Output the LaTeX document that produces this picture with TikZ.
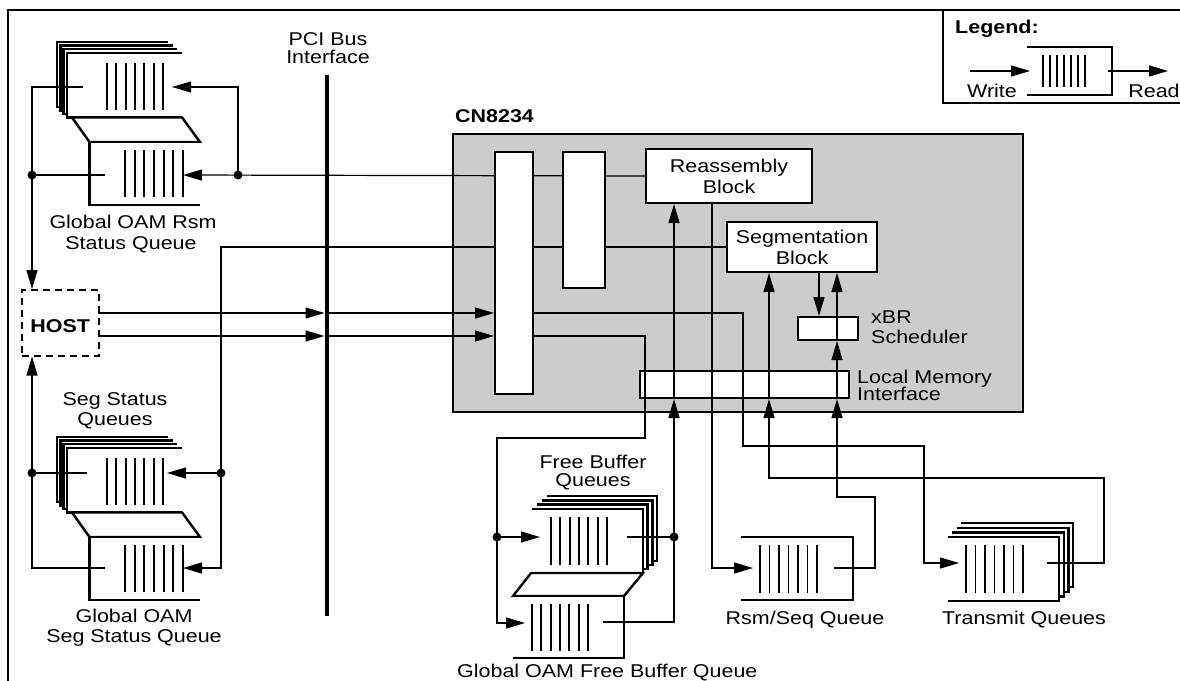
\documentclass[tikz,border=0pt]{standalone}
\usepackage{fontspec}
\setmainfont[FakeStretch=1.16]{Liberation Sans}
\usetikzlibrary{arrows.meta,calc}
\newcommand\qlayerL[4]{\fill[white] (#1,#2) rectangle (#3,#4); \draw[qline] (#1,#2) -- (#3,#2) -- (#3,#4) -- (#1,#4);}
\newcommand\qlayerR[4]{\fill[white] (#1,#2) rectangle (#3,#4); \draw[qline] (#3,#2) -- (#1,#2) -- (#1,#4) -- (#3,#4);}
\newcommand\qbars[4]{\foreach \k in {0,...,6}{\draw[bar] ({#1+\k*(#2-#1)/6},#3) -- ({#1+\k*(#2-#1)/6},#4);}}
\newcommand\leftstack{%
  \qlayerR{57}{42}{168}{107}
  \qlayerR{60.3}{45.6}{172.7}{110.5}
  \qlayerR{63.6}{49.2}{177.4}{114}
  \qlayerR{66.9}{52.8}{182.1}{117.5}
  \filldraw[qline,fill=white] (72,117.5) -- (182.1,117.5) -- (200,142) -- (89.5,142) -- cycle;
  \qlayerR{89.5}{142}{200}{205}
  \qbars{107}{163}{63}{110}
  \qbars{125}{183}{150}{197}}
\begin{document}
\begin{tikzpicture}[x=1pt,y=-1pt,
  every node/.style={font=\fontsize{18.5}{21}\selectfont},
  ln/.style={line width=1.2pt},
  arr/.style={ln,-{Triangle[length=19pt,width=11pt]}},
  qline/.style={line width=2.4pt},
  bar/.style={line width=1.8pt},
  box/.style={draw,line width=2pt,fill=white,inner sep=0pt,anchor=north west,align=center},
  dot/.style={circle,fill=black,inner sep=0pt,minimum size=9pt},
  lbl/.style={anchor=base,inner sep=0pt},
  lblL/.style={anchor=base west,inner sep=0pt}]
\useasboundingbox (0,0) rectangle (1180,680);
% frame and legend box
\draw[line width=2.5pt] (8,682) -- (8,10) -- (1182,10);
\draw[line width=2pt] (943,10) -- (943,103) -- (1182,103);
% chip and blocks
\node[draw,line width=2pt,fill=gray!40,minimum width=570pt,minimum height=278pt,anchor=north west,inner sep=0pt] (chip) at (452,133) {};
\node[box,minimum width=166pt,minimum height=54pt] (reasm) at (645,148) {Reassembly\\Block};
\node[box,minimum width=150pt,minimum height=50pt] (seg) at (726,221) {Segmentation\\Block};
\node[box,minimum width=60pt,minimum height=23pt] (xbr) at (797,316) {};
\node[box,minimum width=209pt,minimum height=27pt] (lmi) at (639,370) {};
% host
\node[draw,line width=1.5pt,dash pattern=on 7pt off 5pt,minimum width=77pt,minimum height=66pt,anchor=north west,inner sep=0pt,text height=20pt] (host) at (21,289) {\bfseries HOST};
% queues
\begin{scope}\leftstack\end{scope}
\begin{scope}[shift={(0,395)}]\leftstack\end{scope}
% free buffer queues
\qlayerL{547}{496}{657}{561}
\qlayerL{542}{500.3}{652.3}{565}
\qlayerL{537}{504.6}{647.6}{569}
\qlayerL{532}{509}{643}{573}
\filldraw[qline,fill=white] (531,573) -- (643,573) -- (624,596) -- (513,596) -- cycle;
\qlayerL{513}{596}{624}{658}
\qbars{551}{607}{517}{565}
\qbars{532}{588}{604}{651}
% transmit queues
\qlayerL{961}{523}{1073}{587}
\qlayerL{956.7}{527.7}{1068.3}{591.7}
\qlayerL{952.3}{532.3}{1063.7}{596.3}
\qlayerL{948}{537}{1059}{601}
\qbars{966}{1023}{545}{593}
% rsm/seq queue
\qlayerL{741}{537}{853}{600}
\qbars{760}{817}{545}{593}
% legend queue
\qlayerL{1027}{47}{1112}{95}
\qbars{1043}{1085}{55}{87}
% ports
\coordinate (rsmUw) at (172,87); \coordinate (rsmUr) at (83,87);
\coordinate (rsmLw) at (183,175); \coordinate (rsmLr) at (105,175);
\coordinate (segUw) at (167,473); \coordinate (segUr) at (87,473);
\coordinate (segLw) at (183,568); \coordinate (segLr) at (105,568);
\coordinate (fbUw) at (540,537); \coordinate (fbUr) at (627,537);
\coordinate (fbLw) at (525,623); \coordinate (fbLr) at (603,622);
\coordinate (rsW) at (753,568); \coordinate (rsR) at (834,568);
\coordinate (txW) at (959,563); \coordinate (txR) at (1047,563);
\coordinate (hA) at (98,313); \coordinate (hB) at (98,336);
\coordinate (lgW) at (970,71); \coordinate (lgWt) at (1030,71);
\coordinate (lgR) at (1108,71); \coordinate (lgRt) at (1168,71);
\coordinate (cB) at (837,497); \coordinate (cS) at (819,290); \coordinate (cT) at (769,478);
% dots
\node[dot] (jRsmL) at (32,175) {};
\node[dot] (jRsmR) at (238,175) {};
\node[dot] (jSegL) at (32,473) {};
\node[dot] (jSegR) at (221,473) {};
\node[dot] (jFbL) at (497,537) {};
\node[dot] (jFbR) at (674,537) {};
% bus
\node[fill=black,minimum width=4.5pt,minimum height=541pt,inner sep=0pt,anchor=north] (bus) at (327,75) {};
% connectors
\draw[arr] (rsmUr) -| (jRsmL |- host.north);
\draw[ln] (rsmLr) -- (jRsmL.center);
\draw[arr] (reasm.west) -- (rsmLw);
\draw[arr] (jRsmR.center) |- (rsmUw);
\draw[ln] (seg.west) -| (jSegR.center);
\draw[arr] (jSegR.center) -- (segUw);
\draw[arr] (jSegR.center) |- (segLw);
\draw[ln] (segUr) -- (jSegL.center);
\draw[arr] (segLr) -| (jSegL |- host.south);
\draw[arr] (hA) -- (hA -| bus.west);
\draw[arr] (hB) -- (hB -| bus.west);
\draw[arr] (hA -| bus.east) -- (hA -| 494,0);
\draw[arr] (hB -| bus.east) -- (hB -| 494,0);
\draw[arr] (hA -| 532,0) -| (743,446) -| (924,563) -- (txW);
\draw[ln] (hB -| 532,0) -| (645,438) -| (jFbL.center);
\draw[arr] (jFbL.center) -- (fbUw);
\draw[arr] (jFbL.center) |- (fbLw);
\draw[ln] (fbUr) -- (jFbR.center);
\draw[ln] (fbLr) -| (jFbR.center);
\draw[arr] (jFbR.center) -- (jFbR |- lmi.south);
\draw[arr] (jFbR |- lmi.south) -- (jFbR |- reasm.south);
\draw[arr] ([xshift=-17pt]reasm.south) |- (rsW);
\draw[arr] (rsR) -| (875,497) -- (cB) -- (cB |- lmi.south);
\draw[arr] (cB |- lmi.south) -- (cB |- xbr.south);
\draw[ln] (cB |- xbr.south) -- (cB |- xbr.north);
\draw[arr] (cB |- xbr.north) -- (cB |- seg.south);
\draw[arr] (cS |- seg.south) -- (cS |- xbr.north);
\draw[arr] (txR) -| (1104,478) -- (cT) -- (cT |- lmi.south);
\draw[arr] (cT |- lmi.south) -- (cT |- seg.south);
\draw[arr] (lgW) -- (lgWt);
\draw[arr] (lgR) -- (lgRt);
% tall white rectangles (on top)
\node[box,minimum width=38pt,minimum height=242pt] (bufA) at (494,151) {};
\node[box,minimum width=42pt,minimum height=136pt] (bufB) at (562,151) {};
% labels
\node[lbl] at (328,45) {PCI Bus};
\node[lbl] at (328,63) {Interface};
\node[lblL,font=\fontsize{18.5}{21}\selectfont\bfseries] at (455,122) {CN8234};
\node[lblL,font=\fontsize{18.5}{21}\selectfont\bfseries] at (955,33) {Legend:};
\node[lbl] at (992,97) {Write};
\node[lbl] at (1154,97) {Read};
\node[lblL] at (871,323) {xBR};
\node[lblL] at (871,343) {Scheduler};
\node[lblL] at (857,383) {Local Memory};
\node[lblL] at (857,400) {Interface};
\node[lbl] at (133,228) {Global OAM Rsm};
\node[lbl] at (131,249) {Status Queue};
\node[lbl] at (115,405) {Seg Status};
\node[lbl] at (115,425) {Queues};
\node[lbl] at (134,622) {Global OAM};
\node[lbl] at (134,642) {Seg Status Queue};
\node[lbl] at (593,468) {Free Buffer};
\node[lbl] at (593,486) {Queues};
\node[lblL] at (457,677) {Global OAM Free Buffer Queue};
\node[lbl] at (805,624) {Rsm/Seq Queue};
\node[lbl] at (1024,624) {Transmit Queues};
\end{tikzpicture}
\end{document}
